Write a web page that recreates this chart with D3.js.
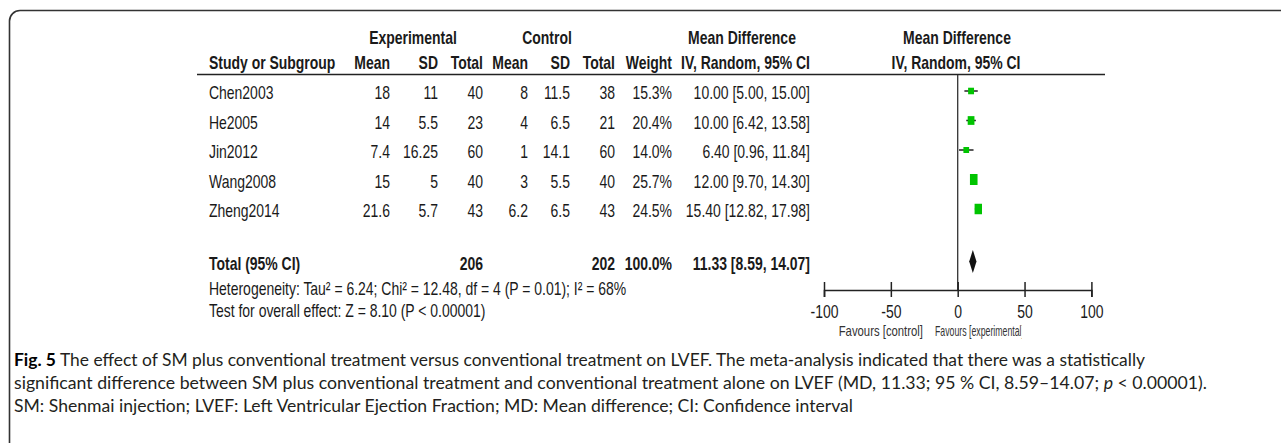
<!DOCTYPE html>
<html>
<head>
<meta charset="utf-8">
<script src="https://cdn.jsdelivr.net/npm/d3@7"></script>
<style>
  html, body { margin: 0; padding: 0; background: #fff; }
  svg { display: block; }
</style>
</head>
<body>
<div id="forest"></div>
<script>
// Data
const studies  = ["Chen2003", "He2005", "Jin2012", "Wang2008", "Zheng2014"];
const expMean  = ["18", "14", "7.4", "15", "21.6"];
const expSD    = ["11", "5.5", "16.25", "5", "5.7"];
const expTotal = [40, 23, 60, 40, 43];
const ctlMean  = ["8", "4", "1", "3", "6.2"];
const ctlSD    = ["11.5", "6.5", "14.1", "5.5", "6.5"];
const ctlTotal = [38, 21, 60, 40, 43];
const weights  = [15.3, 20.4, 14.0, 25.7, 24.5];
const md       = [10.00, 10.00, 6.40, 12.00, 15.40];
const ciLow    = [5.00, 6.42, 0.96, 9.70, 12.82];
const ciHigh   = [15.00, 13.58, 11.84, 14.30, 17.98];

const pooled = { expTotal: 206, ctlTotal: 202, weight: 100.0, md: 11.33, low: 8.59, high: 14.07 };
const axisTicks = [-100, -50, 0, 50, 100];

const heterogeneity = "Heterogeneity: Tau\u00b2 = 6.24; Chi\u00b2 = 12.48, df = 4 (P = 0.01); I\u00b2 = 68%";
const overallTest = "Test for overall effect: Z = 8.10 (P < 0.00001)";

// Page size
const width = 1281;
const height = 443;

const svg = d3.select("#forest")
  .append("svg")
  .attr("width", width)
  .attr("height", height);

// narrow text (Arial Narrow look) made by squeezing Liberation Sans
const SX = 0.755;
const tableFont = "'Liberation Sans', Arial, sans-serif";
const ink = "#1a1a1a";

function put(parent, x, y, str, anchor, bold, size) {
  return parent.append("text")
    .attr("transform", `translate(${x},${y}) scale(${SX},1)`)
    .attr("text-anchor", anchor || "start")
    .attr("font-family", tableFont)
    .attr("font-size", size || 18.5)
    .attr("font-weight", bold ? "bold" : "normal")
    .attr("fill", ink)
    .text(str);
}

// Frame round the figure
svg.append("path")
  .attr("d", "M9.5,443 L9.5,21 A10.5,10.5 0 0 1 20,10.5 L1281,10.5")
  .attr("fill", "none")
  .attr("stroke", "#333")
  .attr("stroke-width", 1.6);

// Header rows
put(svg, 413, 44, "Experimental", "middle", true);
put(svg, 547, 44, "Control", "middle", true);
put(svg, 742, 44, "Mean Difference", "middle", true);
put(svg, 957, 44, "Mean Difference", "middle", true);

const col = { study: 209, eMean: 390, eSD: 438, eTot: 483, cMean: 528, cSD: 570, cTot: 615, wt: 672, ci: 810 };

put(svg, col.study, 68.5, "Study or Subgroup", "start", true);
put(svg, col.eMean, 68.5, "Mean", "end", true);
put(svg, col.eSD, 68.5, "SD", "end", true);
put(svg, col.eTot, 68.5, "Total", "end", true);
put(svg, col.cMean, 68.5, "Mean", "end", true);
put(svg, col.cSD, 68.5, "SD", "end", true);
put(svg, col.cTot, 68.5, "Total", "end", true);
put(svg, col.wt, 68.5, "Weight", "end", true);
put(svg, col.ci, 68.5, "IV, Random, 95% CI", "end", true);
put(svg, 956, 68.5, "IV, Random, 95% CI", "middle", true);

svg.append("line")
  .attr("x1", 197).attr("x2", 1105)
  .attr("y1", 74.5).attr("y2", 74.5)
  .attr("stroke", "#222")
  .attr("stroke-width", 1.6);

// Scales
const yRow = d3.scalePoint()
  .domain(studies)
  .range([91, 209]);

const x = d3.scaleLinear()
  .domain([-100, 100])
  .range([824, 1091.4]);

const boxW = d3.scaleLinear().domain([14, 25.7]).range([5.7, 7.6]);
const boxH = d3.scaleLinear().domain([14, 25.7]).range([6, 11]);

const fmt2 = d3.format(".2f");
const fmt1 = d3.format(".1f");

// Study rows
studies.forEach((s, i) => {
  const yb = yRow(s) + 8;
  put(svg, col.study, yb, s, "start");
  put(svg, col.eMean, yb, expMean[i], "end");
  put(svg, col.eSD, yb, expSD[i], "end");
  put(svg, col.eTot, yb, expTotal[i], "end");
  put(svg, col.cMean, yb, ctlMean[i], "end");
  put(svg, col.cSD, yb, ctlSD[i], "end");
  put(svg, col.cTot, yb, ctlTotal[i], "end");
  put(svg, col.wt, yb, fmt1(weights[i]) + "%", "end");
  put(svg, col.ci, yb, `${fmt2(md[i])} [${fmt2(ciLow[i])}, ${fmt2(ciHigh[i])}]`, "end");
});

// Total row
const totalBase = 270;
put(svg, col.study, totalBase, "Total (95% CI)", "start", true);
put(svg, col.eTot, totalBase, pooled.expTotal, "end", true);
put(svg, col.cTot, totalBase, pooled.ctlTotal, "end", true);
put(svg, col.wt, totalBase, fmt1(pooled.weight) + "%", "end", true);
put(svg, col.ci, totalBase, `${fmt2(pooled.md)} [${fmt2(pooled.low)}, ${fmt2(pooled.high)}]`, "end", true);

put(svg, col.study, 294.5, heterogeneity, "start");
put(svg, col.study, 317, overallTest, "start");

// Forest plot
const axisY = 290;

// line of no effect
svg.append("line")
  .attr("x1", x(0)).attr("x2", x(0))
  .attr("y1", 75).attr("y2", axisY)
  .attr("stroke", "#333")
  .attr("stroke-width", 1.3);

// confidence intervals
svg.append("g")
  .selectAll("line")
  .data(studies)
  .enter()
  .append("line")
    .attr("x1", (d, i) => x(ciLow[i]))
    .attr("x2", (d, i) => x(ciHigh[i]))
    .attr("y1", d => yRow(d))
    .attr("y2", d => yRow(d))
    .attr("stroke", "#222")
    .attr("stroke-width", 1.5);

// weight boxes
svg.append("g")
  .selectAll("rect")
  .data(studies)
  .enter()
  .append("rect")
    .attr("x", (d, i) => x(md[i]) - boxW(weights[i]) / 2)
    .attr("y", (d, i) => yRow(d) - boxH(weights[i]) / 2)
    .attr("width", (d, i) => boxW(weights[i]))
    .attr("height", (d, i) => boxH(weights[i]))
    .attr("fill", "#00c400");

// pooled diamond
const dy = 261.5;
svg.append("path")
  .attr("d", `M${x(pooled.low)},${dy} L${x(pooled.md)},${dy - 11.5} L${x(pooled.high)},${dy} L${x(pooled.md)},${dy + 11.5} Z`)
  .attr("fill", "#111");

// axis
const axis = svg.append("g")
  .attr("transform", `translate(0, ${axisY})`)
  .call(d3.axisBottom(x).tickValues(axisTicks).tickFormat(d => String(d)).tickSizeOuter(0).tickSize(7));

axis.select(".domain").attr("stroke", "#222").attr("stroke-width", 1.6);
axis.selectAll(".tick line")
  .attr("y1", -8)
  .attr("y2", 7)
  .attr("stroke", "#222")
  .attr("stroke-width", 1.5);
axis.selectAll(".tick text")
  .attr("y", 28)
  .attr("dy", 0)
  .attr("transform", `scale(${SX},1)`)
  .attr("font-family", tableFont)
  .attr("font-size", 18.5)
  .attr("fill", ink);

// favours labels (the right one is squeezed and cut off in the original)
svg.append("clipPath")
  .attr("id", "favClip")
  .append("rect")
    .attr("x", 0).attr("y", 0)
    .attr("width", 1021.5).attr("height", height);

const fav = svg.append("g").attr("clip-path", "url(#favClip)");
put(fav, 923, 336, "Favours [control]", "end", false, 15).attr("fill", "#333");
fav.append("text")
  .attr("x", 935).attr("y", 336)
  .attr("font-family", tableFont)
  .attr("font-size", 15)
  .attr("fill", "#333")
  .attr("textLength", 89)
  .attr("lengthAdjust", "spacingAndGlyphs")
  .text("Favours [experimental]");

// Caption
const capFont = "Lato, 'Open Sans', sans-serif";
const capInk = "#231f20";

const cap1 = svg.append("text")
  .attr("x", 14).attr("y", 366)
  .attr("font-family", capFont)
  .attr("font-size", 16.5)
  .attr("fill", capInk)
  .attr("textLength", 1131)
  .attr("lengthAdjust", "spacingAndGlyphs");
cap1.append("tspan").attr("font-weight", "bold").attr("fill", "#000").text("Fig. 5");
cap1.append("tspan").text(" The effect of SM plus conventional treatment versus conventional treatment on LVEF. The meta-analysis indicated that there was a statistically");

const cap2 = svg.append("text")
  .attr("x", 14).attr("y", 389)
  .attr("font-family", capFont)
  .attr("font-size", 16.5)
  .attr("fill", capInk)
  .attr("textLength", 1193)
  .attr("lengthAdjust", "spacingAndGlyphs");
cap2.append("tspan").text("significant difference between SM plus conventional treatment and conventional treatment alone on LVEF (MD, 11.33; 95 % CI, 8.59\u201314.07; ");
cap2.append("tspan").attr("font-style", "italic").text("p");
cap2.append("tspan").text(" < 0.00001).");

svg.append("text")
  .attr("x", 14).attr("y", 412)
  .attr("font-family", capFont)
  .attr("font-size", 16.5)
  .attr("fill", capInk)
  .attr("textLength", 839)
  .attr("lengthAdjust", "spacingAndGlyphs")
  .text("SM: Shenmai injection; LVEF: Left Ventricular Ejection Fraction; MD: Mean difference; CI: Confidence interval");
</script>
</body>
</html>
